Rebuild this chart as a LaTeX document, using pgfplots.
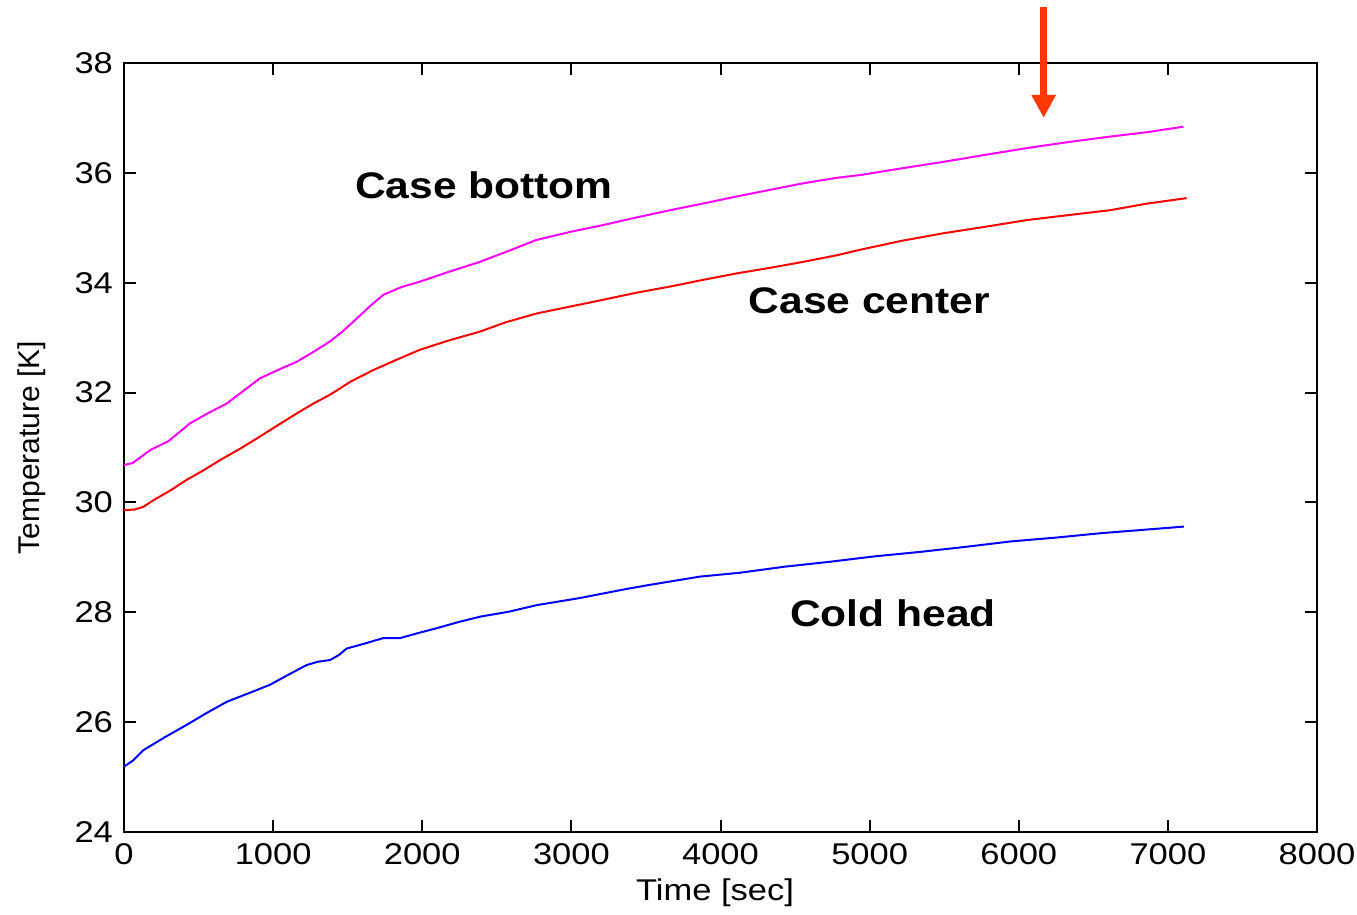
\documentclass[border=0pt]{standalone}
\usepackage{fontspec}
\setmainfont{Liberation Sans}[FakeStretch=1.15]
\newfontfamily\plainfont{Liberation Sans}
\usepackage{pgfplots}
\pgfplotsset{compat=1.18}
\usetikzlibrary{arrows.meta}
\definecolor{arrowred}{RGB}{255,56,0}
\begin{document}
\begin{tikzpicture}
\begin{axis}[
  name=ax,
  scale only axis,
  width=596.5pt, height=384.5pt,
  xmin=0, xmax=8000, ymin=24, ymax=38,
  xtick={0,1000,...,8000}, ytick={24,26,...,38},
  scaled x ticks=false,
  /pgf/number format/assume math mode=true,
  /pgf/number format/set thousands separator={},
  tick label style={font=\fontsize{15}{18}\selectfont},
  xticklabel style={yshift=-2pt},
  yticklabel style={xshift=-2pt},
  tick align=inside,
  major tick length=6pt,
  axis line style={line width=1pt},
  every tick/.style={black, line width=1pt},
  xlabel={Time [sec]},
  ylabel={Temperature [K]},
  xlabel style={font=\fontsize{15}{18}\selectfont, at={(axis description cs:0.4954,-0.0793)}, anchor=center},
  ylabel style={font=\plainfont\fontsize{15}{18}\selectfont, at={(axis description cs:-0.0771,0.5)}, anchor=center},
  clip=false,
  every axis plot/.append style={line width=1pt},
]
% Case bottom (magenta)
\addplot[color={rgb,255:red,255;green,0;blue,255}] coordinates {
(0,30.68) (60,30.72) (174,30.95) (300,31.12) (443,31.44) (560,31.62) (689,31.80) (800,32.03) (912,32.26) (1040,32.42) (1158,32.56) (1270,32.74) (1381,32.93) (1460,33.10) (1538,33.29) (1640,33.55) (1739,33.78) (1860,33.92) (1985,34.02) (2180,34.20) (2387,34.38) (2580,34.58) (2767,34.78) (3000,34.93) (3214,35.05) (3440,35.19) (3662,35.32) (3880,35.44) (4109,35.57) (4330,35.69) (4555,35.81) (4780,35.91) (4936,35.96) (5210,36.08) (5494,36.20) (5780,36.33) (6053,36.45) (6330,36.56) (6612,36.66) (6860,36.74) (7104,36.84)
};
% Case center (red)
\addplot[color={rgb,255:red,255;green,0;blue,0}] coordinates {
(0,29.86) (70,29.87) (130,29.92) (197,30.04) (300,30.20) (420,30.41) (530,30.58) (644,30.77) (780,30.98) (912,31.20) (1040,31.42) (1158,31.62) (1270,31.80) (1381,31.96) (1520,32.20) (1672,32.41) (1830,32.60) (1985,32.78) (2180,32.95) (2387,33.11) (2560,33.28) (2767,33.44) (3000,33.57) (3214,33.69) (3440,33.82) (3662,33.93) (3880,34.05) (4109,34.17) (4330,34.27) (4555,34.38) (4780,34.50) (4936,34.60) (5210,34.76) (5494,34.90) (5780,35.02) (6053,35.14) (6330,35.23) (6612,35.32) (6860,35.44) (7126,35.54)
};
% Cold head (blue)
\addplot[color={rgb,255:red,0;green,0;blue,255}] coordinates {
(0,25.19) (60,25.30) (130,25.49) (270,25.72) (420,25.95) (550,26.16) (689,26.37) (830,26.52) (979,26.68) (1100,26.86) (1225,27.04) (1300,27.10) (1381,27.13) (1440,27.22) (1493,27.34) (1600,27.42) (1739,27.53) (1851,27.53) (1970,27.62) (2097,27.71) (2240,27.82) (2387,27.92) (2580,28.01) (2767,28.13) (3058,28.26) (3360,28.42) (3527,28.50) (3863,28.65) (4131,28.72) (4430,28.83) (4734,28.92) (5040,29.02) (5341,29.10) (5640,29.19) (5946,29.29) (6250,29.36) (6551,29.44) (6830,29.50) (7108,29.56)
};
\node[font=\fontsize{18.5}{22}\selectfont\bfseries] at (axis cs:2414,35.78) {Case bottom};
\node[font=\fontsize{18.5}{22}\selectfont\bfseries] at (axis cs:4999,33.67) {Case center};
\node[font=\fontsize{18.5}{22}\selectfont\bfseries] at (axis cs:5157,27.99) {Cold head};
\draw[arrowred, line width=3.8pt, -{Triangle[width=11.5pt,length=11.5pt]}] (axis cs:6167,39.02) -- (axis cs:6167,37.0);
\end{axis}
\pgfresetboundingbox
\path[use as bounding box] ([shift={(-62pt,-41pt)}]ax.south west) rectangle ([shift={(20pt,31.5pt)}]ax.north east);
\end{tikzpicture}
\end{document}
